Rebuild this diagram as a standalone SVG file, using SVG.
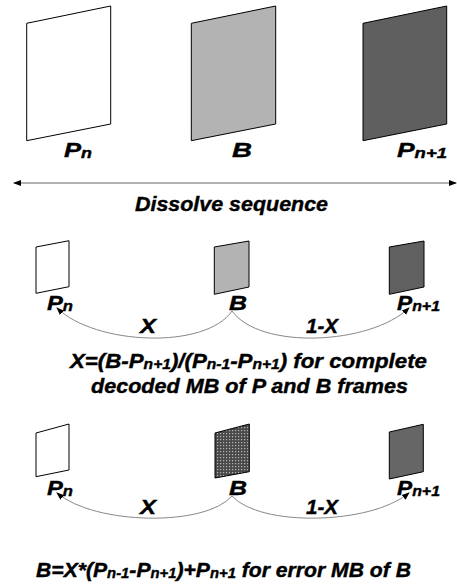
<svg xmlns="http://www.w3.org/2000/svg" width="457" height="586" viewBox="0 0 457 586">
<style>
text{font-family:"Liberation Sans",Arial,sans-serif;font-weight:bold;font-style:italic;fill:#000;stroke:#000;stroke-width:0.4}
.lbl{font-size:20px}
.big{font-size:21px}
.frm{font-size:20px}
.s{font-size:14px}
.fr{stroke:#000;stroke-width:1}
.conn{fill:none;stroke:#888;stroke-width:1}
</style>
<defs>
<pattern id="chk" width="3" height="3" patternUnits="userSpaceOnUse">
<rect width="3" height="3" fill="#4a4a4a"/>
<rect x="1" y="1" width="1.2" height="1.2" fill="#b5b5b5"/>
</pattern>
<marker id="ah" markerWidth="8" markerHeight="8" refX="7" refY="4" orient="auto" markerUnits="userSpaceOnUse">
<path d="M0,1 L8,4 L0,7 Z" fill="#000"/>
</marker>
<marker id="ahs" markerWidth="8" markerHeight="8" refX="1" refY="4" orient="auto" markerUnits="userSpaceOnUse">
<path d="M8,1 L0,4 L8,7 Z" fill="#000"/>
</marker>
</defs>

<g id="top-Pn"><polygon class="fr" fill="#fff" points="26.7,23.3 110.7,6 110.7,124 26.7,140.7"/><text class="lbl" x="64" y="157" textLength="28" lengthAdjust="spacingAndGlyphs">P<tspan class="s" dy="1">n</tspan></text></g>
<g id="top-B"><polygon class="fr" fill="#b3b3b3" points="191.3,23.3 275.7,6 275.7,124 191.3,140.7"/><text class="lbl" x="232" y="157" textLength="20" lengthAdjust="spacingAndGlyphs">B</text></g>
<g id="top-Pn1"><polygon class="fr" fill="#5f5f5f" points="363,23.3 446.7,6 446.7,124 363,140.7"/><text class="lbl" x="397" y="157" textLength="50" lengthAdjust="spacingAndGlyphs">P<tspan class="s" dy="1">n+1</tspan></text></g>

<g id="mid-Pn"><polygon class="fr" fill="#fff" points="36,247 69,240.7 69,286.7 36,293.3"/><text class="lbl" x="47" y="310" textLength="26" lengthAdjust="spacingAndGlyphs">P<tspan class="s" dy="1">n</tspan></text></g>
<g id="mid-B"><polygon class="fr" fill="#b3b3b3" points="214.3,247 249,241 249,287 214.3,294.3"/><text class="lbl" x="229" y="310" textLength="18" lengthAdjust="spacingAndGlyphs">B</text></g>
<g id="mid-Pn1"><polygon class="fr" fill="#606060" points="389.3,247 424,241 424,287 389.3,294.3"/><text class="lbl" x="397" y="310" textLength="43" lengthAdjust="spacingAndGlyphs">P<tspan class="s" dy="1">n+1</tspan></text></g>

<g id="bot-Pn"><polygon class="fr" fill="#fff" points="36,433 69,424 69,470 36,476.7"/><text class="lbl" x="47" y="495" textLength="26" lengthAdjust="spacingAndGlyphs">P<tspan class="s" dy="1">n</tspan></text></g>
<g id="bot-B"><polygon class="fr" fill="url(#chk)" points="215,433 249.3,424 249.3,471.7 215,478"/><text class="lbl" x="229" y="495" textLength="18" lengthAdjust="spacingAndGlyphs">B</text></g>
<g id="bot-Pn1"><polygon class="fr" fill="#666" points="389.3,432 423.3,424.3 423.3,471.7 389.3,479"/><text class="lbl" x="397" y="495" textLength="43" lengthAdjust="spacingAndGlyphs">P<tspan class="s" dy="1">n+1</tspan></text></g>

<g id="connectors">
<line x1="14" y1="183" x2="456" y2="183" stroke="#999" stroke-width="1.5" marker-start="url(#ahs)" marker-end="url(#ah)"/>
<path class="conn" d="M232,311 C205,350 95,345 57,308" marker-end="url(#ah)"/>
<path class="conn" d="M232,311 C260,350 370,345 409,308" marker-end="url(#ah)"/>
<path class="conn" d="M232,496 C205,527 95,525 57,493" marker-end="url(#ah)"/>
<path class="conn" d="M232,496 C260,527 370,525 409,493" marker-end="url(#ah)"/>
</g>

<text class="big" x="135" y="211" textLength="193" lengthAdjust="spacingAndGlyphs">Dissolve sequence</text>
<text class="lbl" x="140" y="333" textLength="16" lengthAdjust="spacingAndGlyphs">X</text>
<text class="lbl" x="306" y="333" textLength="32" lengthAdjust="spacingAndGlyphs">1-X</text>
<text class="lbl" x="140" y="514" textLength="16" lengthAdjust="spacingAndGlyphs">X</text>
<text class="lbl" x="306" y="514" textLength="32" lengthAdjust="spacingAndGlyphs">1-X</text>

<text class="frm" x="70" y="368" textLength="357" lengthAdjust="spacingAndGlyphs">X=(B-P<tspan class="s" dy="1">n+1</tspan><tspan dy="-1">)/(P</tspan><tspan class="s" dy="1">n-1</tspan><tspan dy="-1">-P</tspan><tspan class="s" dy="1">n+1</tspan><tspan dy="-1">) for complete</tspan></text>
<text class="frm" x="91" y="393" textLength="317" lengthAdjust="spacingAndGlyphs">decoded MB of P and B frames</text>
<text class="frm" x="36" y="577" textLength="375" lengthAdjust="spacingAndGlyphs">B=X*(P<tspan class="s" dy="1">n-1</tspan><tspan dy="-1">-P</tspan><tspan class="s" dy="1">n+1</tspan><tspan dy="-1">)+P</tspan><tspan class="s" dy="1">n+1</tspan><tspan dy="-1"> for error MB of B</tspan></text>
</svg>
